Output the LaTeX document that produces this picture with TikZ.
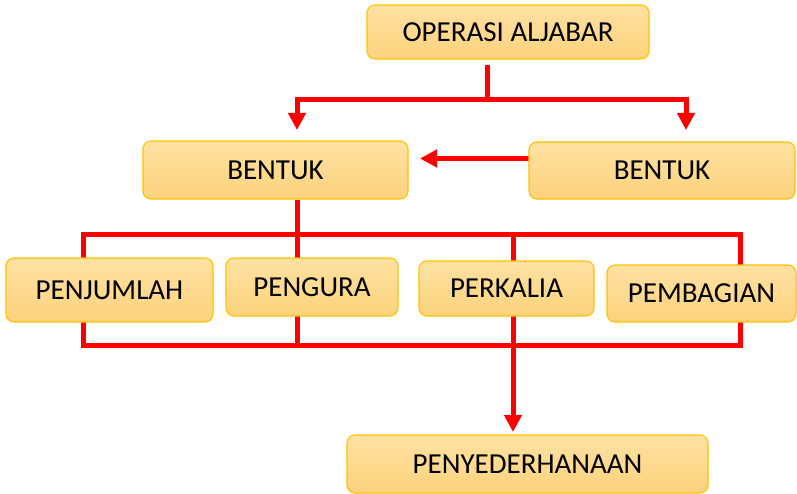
\documentclass[tikz,border=0pt]{standalone}
\usepackage{fontspec}
\setmainfont{Carlito}
\usetikzlibrary{arrows.meta,backgrounds}
\definecolor{boxtop}{RGB}{254,225,162}
\definecolor{boxbot}{RGB}{252,211,124}
\definecolor{boxline}{RGB}{255,192,0}
\definecolor{conn}{RGB}{255,0,0}
\tikzset{
  box/.style={draw=boxline, line width=1.1pt, rounded corners=8pt,
    top color=boxtop, bottom color=boxbot, inner sep=0pt,
    font=\fontsize{29}{34}\selectfont, text=black},
  link/.style={draw=conn, line width=5pt, line join=miter},
  arr/.style={link, -{Triangle[width=17pt,length=17pt]}},
  arrboth/.style={link, {Triangle[width=17pt,length=17pt]}-{Triangle[width=17pt,length=17pt]}}
}
\begin{document}
\begin{tikzpicture}[x=1pt,y=-1pt]
\useasboundingbox (0,0) rectangle (797,494);
% boxes
\node[box, minimum width=282pt, minimum height=54pt] (op) at (508,32) {OPERASI ALJABAR};
\node[box, minimum width=265pt, minimum height=58pt] (bl) at (275.5,170) {BENTUK};
\node[box, minimum width=266pt, minimum height=57pt] (br) at (662,170.5) {BENTUK};
\node[box, minimum width=207pt, minimum height=64pt] (pj) at (109.5,290) {PENJUMLAH};
\node[box, minimum width=172pt, minimum height=58pt] (pg) at (312,287) {PENGURA};
\node[box, minimum width=175pt, minimum height=55pt] (pk) at (506.5,288.5) {PERKALIA};
\node[box, minimum width=189pt, minimum height=57pt] (pb) at (701.5,293.5) {PEMBAGIAN};
\node[box, minimum width=361pt, minimum height=58pt] (py) at (527.5,464) {PENYEDERHANAAN};
% junction coordinates
\coordinate (c0) at (487,64);
\coordinate (c1) at (487,99.5);
\coordinate (cl) at (297,99.5);
\coordinate (cr) at (686,99.5);
\coordinate (tl) at (297,130);
\coordinate (tr) at (686,130);
\coordinate (bs) at (529,158.5);
\coordinate (bt) at (420,158.5);
\coordinate (v1) at (297,235);
\coordinate (v2) at (297,345);
\coordinate (a1) at (83,235);
\coordinate (d2) at (740,345);
\coordinate (m1) at (513,235);
\coordinate (m2) at (513,432);
\begin{scope}[on background layer]
\draw[link] (op.south -| c0) ++(0,5) -- (c1);
\draw[arrboth] (tl) -- (cl) -- (cr) -- (tr);
\draw[arr] (bs) -- (bt);
\draw[link] (bl.south -| v1) -- (v2);
\draw[link] (a1) rectangle (d2);
\draw[arr] (m1) -- (m2);
\end{scope}
\end{tikzpicture}
\end{document}
